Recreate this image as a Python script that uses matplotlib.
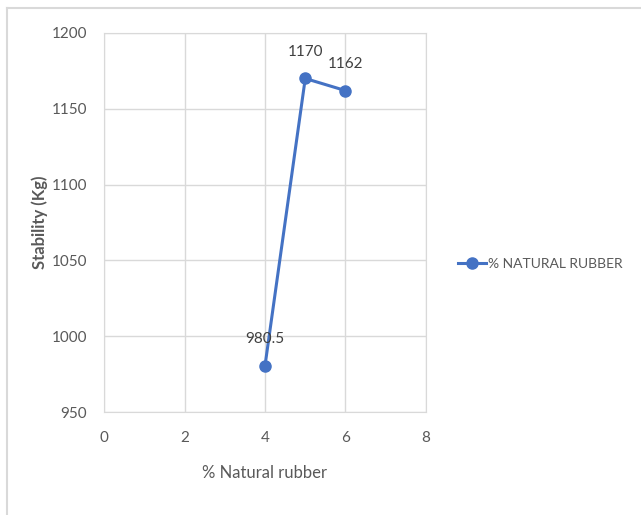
import matplotlib.pyplot as plt
from matplotlib.lines import Line2D

rubber_pct = [4, 5, 6]
stability = [980.5, 1170, 1162]
point_labels = ["980.5", "1170", "1162"]

plt.rcParams['font.family'] = ['Lato', 'DejaVu Sans']

fig = plt.figure(figsize=(6.41, 5.15), dpi=100)
ax = fig.add_axes([104 / 641, 103 / 515, 322 / 641, 379 / 515])

blue = '#4472C4'
grid_c = '#d9d9d9'
text_c = '#595959'

ax.plot(rubber_pct, stability, color=blue, lw=2.2, marker='o', ms=8,
        label='% NATURAL RUBBER', clip_on=False, zorder=3)
for x, y, s in zip(rubber_pct, stability, point_labels):
    ax.annotate(s, (x, y), xytext=(0, 14), textcoords='offset points',
                ha='center', va='bottom', fontsize=11, color='#404040')

ax.set_xlim(0, 8)
ax.set_ylim(950, 1200)
ax.set_xticks([0, 2, 4, 6, 8])
ax.set_yticks([950, 1000, 1050, 1100, 1150, 1200])
ax.grid(True, color=grid_c, lw=1)
ax.set_axisbelow(True)
for sp in ax.spines.values():
    sp.set_color(grid_c)
ax.tick_params(length=0, labelsize=11, labelcolor=text_c)
ax.tick_params(axis='x', pad=14)
ax.tick_params(axis='y', pad=12)

ax.set_xlabel('% Natural rubber', fontsize=12, color=text_c, labelpad=14)
ax.set_ylabel('Stability (Kg)', fontsize=12, color=text_c, fontweight='bold', labelpad=3)

ax.legend(loc='center left', bbox_to_anchor=(1.06, 0.39), frameon=False,
          fontsize=10, labelcolor=text_c, handlelength=2.0, handletextpad=0.2)

# outer chart border
fig.add_artist(Line2D([7 / 641, 1], [1 - 8 / 515, 1 - 8 / 515], color=grid_c, lw=1.5, transform=fig.transFigure))
fig.add_artist(Line2D([7 / 641, 7 / 641], [0, 1 - 8 / 515], color=grid_c, lw=1.5, transform=fig.transFigure))

fig.savefig('out.png', dpi=100)
